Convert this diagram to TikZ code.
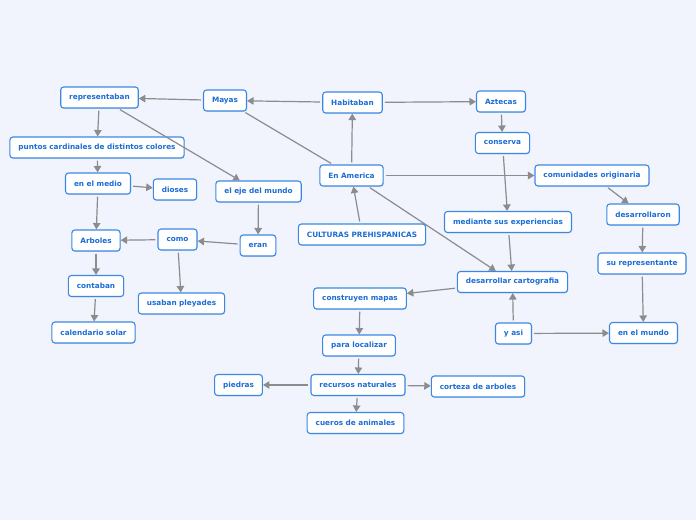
\documentclass[tikz,border=0pt]{standalone}
\usepackage{fontspec}
\setmainfont{DejaVu Sans}
\usepackage{xcolor}
\usepackage{tikz}
\usetikzlibrary{arrows.meta,shadows}
\definecolor{paper}{HTML}{F1F4FD}
\definecolor{edgeblue}{HTML}{3A88E4}
\definecolor{inkblue}{HTML}{1B6CD4}
\definecolor{wire}{HTML}{8C8C8E}

\begin{document}
\begin{tikzpicture}[x=1pt, y=-1pt,
			every node/.style={font=\fontsize{7.3}{8}\selectfont\bfseries, color=inkblue},
			idea/.style={draw=edgeblue, fill=white, rounded corners=3pt, line width=1.1pt, minimum height=21pt, inner xsep=8.5pt, inner ysep=2pt, drop shadow={opacity=0.18, shadow xshift=0.6pt, shadow yshift=-0.9pt}},
			arr/.style={-{Triangle[length=6.5pt, width=7.5pt]}, line width=1.2pt, draw=wire, shorten <=2pt},
			link/.style={line width=1.2pt, draw=wire, shorten <=2pt, shorten >=2pt}
		]
		\useasboundingbox[fill=paper] (0,0) rectangle (696,520);

		\node[idea] (rep) at (99.5,97.5) {representaban};
		\node[idea] (mayas) at (225,100.5) {Mayas};
		\node[idea] (habit) at (352.5,102.5) {Habitaban};
		\node[idea] (azt) at (501,101.5) {Aztecas};
		\node[idea] (cons) at (502.5,143) {conserva};
		\node[idea] (amer) at (351.5,175.5) {En America};
		\node[idea] (comu) at (592,175.5) {comunidades originaria};
		\node[idea] (desa) at (643,214.5) {desarrollaron};
		\node[idea] (surep) at (642,263.5) {su representante};
		\node[idea] (mundo) at (643.5,333) {en el mundo};
		\node[idea] (medi) at (508,222) {mediante sus experiencias};
		\node[idea] (cult) at (362,234.5) {CULTURAS PREHISPANICAS};
		\node[idea] (carto) at (512.5,282) {desarrollar cartografia};
		\node[idea] (constr) at (360,298.5) {construyen mapas};
		\node[idea] (yasi) at (513.5,333.5) {y asi};
		\node[idea] (para) at (359,345.5) {para localizar};
		\node[idea] (recur) at (358,385) {recursos naturales};
		\node[idea] (piedras) at (238.5,385) {piedras};
		\node[idea] (corteza) at (478,386.5) {corteza de arboles};
		\node[idea] (cueros) at (355.5,423) {cueros de animales};
		\node[idea] (puntos) at (97,147.5) {puntos cardinales de distintos colores};
		\node[idea] (medio) at (98,183.5) {en el medio};
		\node[idea] (dioses) at (175,189.5) {dioses};
		\node[idea] (eje) at (258.5,191.5) {el eje del mundo};
		\node[idea] (arb) at (96,240.5) {Arboles};
		\node[idea] (como) at (177.5,239.5) {como};
		\node[idea] (eran) at (258,245.5) {eran};
		\node[idea] (contab) at (96,286) {contaban};
		\node[idea] (pley) at (181.5,303.5) {usaban pleyades};
		\node[idea] (cal) at (93.5,332.5) {calendario solar};

		\draw[arr] (cult) -- (amer);
		\draw[arr] (amer) -- (habit);
		\draw[arr] (habit) -- (mayas);
		\draw[arr] (habit) -- (azt);
		\draw[link] (mayas) -- (amer);
		\draw[arr] (mayas) -- (rep);
		\draw[arr] (rep) -- (puntos);
		\draw[arr] (rep) -- (eje);
		\draw[arr] (puntos) -- (medio);
		\draw[arr] (medio) -- (dioses);
		\draw[arr] (medio) -- (arb);
		\draw[arr] (arb) -- (contab);
		\draw[arr] (contab) -- (cal);
		\draw[arr] (eje) -- (eran);
		\draw[arr] (eran) -- (como);
		\draw[arr] (como) -- (arb);
		\draw[arr] (como) -- (pley);
		\draw[arr] (azt) -- (cons);
		\draw[arr] (cons) -- (medi);
		\draw[arr] (medi) -- (carto);
		\draw[arr] (amer) -- (carto);
		\draw[arr] (amer) -- (comu);
		\draw[arr] (comu) -- (desa);
		\draw[arr] (desa) -- (surep);
		\draw[arr] (surep) -- (mundo);
		\draw[arr] (yasi) -- (mundo);
		\draw[arr] (yasi) -- (carto);
		\draw[arr] (carto) -- (constr);
		\draw[arr] (constr) -- (para);
		\draw[arr] (para) -- (recur);
		\draw[arr] (recur) -- (piedras);
		\draw[arr] (recur) -- (corteza);
		\draw[arr] (recur) -- (cueros);
	\end{tikzpicture}
\end{document}
